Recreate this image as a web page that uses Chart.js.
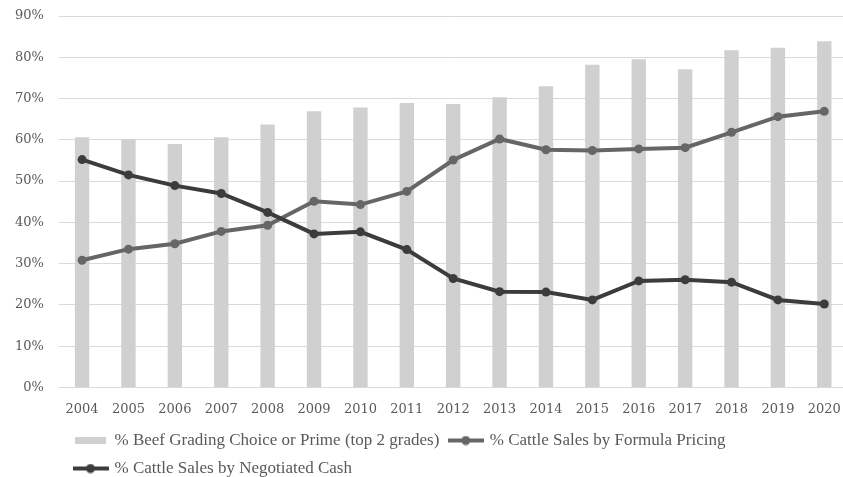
<!DOCTYPE html>
<html lang="en">
<head>
  <meta charset="UTF-8">
  <title>Beef grading and cattle sales by pricing method</title>
  <script src="https://cdn.jsdelivr.net/npm/chart.js@4"></script>
  <style>
    html, body { margin: 0; padding: 0; background: #fff; overflow: hidden; }
    /* plot runs a little past the window on the right, like the source image */
    #wrap { width: 852px; height: 477px; position: relative; }
  </style>
</head>
<body>
  <div id="wrap"><canvas id="chart"></canvas></div>

  <script>
    // data (percent)
    var years = ["2004", "2005", "2006", "2007", "2008", "2009", "2010", "2011", "2012",
                 "2013", "2014", "2015", "2016", "2017", "2018", "2019", "2020"];
    var beefChoicePrime = [60.6, 60.1, 59.0, 60.6, 63.7, 66.9, 67.8, 68.9, 68.7,
                           70.3, 73.0, 78.2, 79.5, 77.1, 81.7, 82.3, 83.9];
    var formulaPricing = [30.8, 33.5, 34.8, 37.8, 39.3, 45.1, 44.3, 47.5, 55.1,
                          60.2, 57.6, 57.4, 57.8, 58.1, 61.8, 65.6, 66.9];
    var negotiatedCash = [55.2, 51.5, 48.9, 47.0, 42.4, 37.2, 37.7, 33.4, 26.4,
                          23.2, 23.1, 21.2, 25.8, 26.1, 25.5, 21.2, 20.2];
    var yTicks = [0, 10, 20, 30, 40, 50, 60, 70, 80, 90];
    var seriesNames = ["% Beef Grading Choice or Prime (top 2 grades)",
                       "% Cattle Sales by Formula Pricing",
                       "% Cattle Sales by Negotiated Cash"];

    var BAR_COLOR = "#d0d0d0";
    var FORMULA_COLOR = "#666666";
    var CASH_COLOR = "#3c3c3c";
    var TEXT_COLOR = "#595959";
    var LEGEND_OFFSET = 53;
    var LEGEND_RAISE = 2;

    /* small pictures used as legend markers */
    function makeBoxMarker(color) {
      var c = document.createElement("canvas");
      c.width = 31;
      c.height = 7;
      var ctx = c.getContext("2d");
      ctx.fillStyle = color;
      ctx.fillRect(0, 0, c.width, c.height);
      return c;
    }

    function makeLineMarker(color) {
      var c = document.createElement("canvas");
      c.width = 36;
      c.height = 10;
      var ctx = c.getContext("2d");
      ctx.strokeStyle = color;
      ctx.lineWidth = 4;
      ctx.beginPath();
      ctx.moveTo(0, 5);
      ctx.lineTo(36, 5);
      ctx.stroke();
      ctx.fillStyle = color;
      ctx.beginPath();
      ctx.arc(18, 5, 4.5, 0, Math.PI * 2);
      ctx.fill();
      return c;
    }

    var legendMarkers = [makeBoxMarker(BAR_COLOR), makeLineMarker(FORMULA_COLOR), makeLineMarker(CASH_COLOR)];

    /* legend sits left-aligned under the plot, not at the canvas edge */
    var legendShift = {
      id: "legendShift",
      afterLayout: function(chart) {
        if (chart.legend) {
          chart.legend.left += LEGEND_OFFSET;
          chart.legend.top -= LEGEND_RAISE;
        }
      }
    };

    var serif = "'DejaVu Serif', serif";

    new Chart(document.getElementById("chart"), {
      type: "bar",
      data: {
        labels: years,
        datasets: [{
          type: "bar",
          label: seriesNames[0],
          data: beefChoicePrime,
          backgroundColor: BAR_COLOR,
          barPercentage: 0.31,
          categoryPercentage: 1.0,
          order: 3
        }, {
          type: "line",
          label: seriesNames[1],
          data: formulaPricing,
          borderColor: FORMULA_COLOR,
          backgroundColor: FORMULA_COLOR,
          borderWidth: 4,
          pointRadius: 4.5,
          pointBorderWidth: 0,
          tension: 0,
          order: 2
        }, {
          type: "line",
          label: seriesNames[2],
          data: negotiatedCash,
          borderColor: CASH_COLOR,
          backgroundColor: CASH_COLOR,
          borderWidth: 4,
          pointRadius: 4.5,
          pointBorderWidth: 0,
          tension: 0,
          order: 1
        }]
      },
      options: {
        responsive: true,
        maintainAspectRatio: false,
        animation: false,
        layout: {
          padding: { left: 11, top: 16, right: 0, bottom: 0 }
        },
        scales: {
          x: {
            grid: { display: false },
            border: { display: false },
            ticks: {
              color: TEXT_COLOR,
              padding: 6,
              maxRotation: 0,
              autoSkip: false,
              font: { family: serif, size: 13 }
            }
          },
          y: {
            min: 0,
            max: 90,
            afterBuildTicks: function(axis) {
              axis.ticks = yTicks.map(function(v) { return { value: v }; });
            },
            // invisible tick marks keep the gap between labels and plot
            grid: { color: "#d9d9d9", lineWidth: 1, drawTicks: true, tickLength: 11, tickColor: "rgba(0,0,0,0)" },
            border: { display: false },
            ticks: {
              color: TEXT_COLOR,
              padding: 4,
              font: { family: serif, size: 13 },
              callback: function(v) { return v + "%"; }
            }
          }
        },
        plugins: {
          tooltip: { enabled: false },
          legend: {
            position: "bottom",
            align: "start",
            maxHeight: 54,
            labels: {
              color: TEXT_COLOR,
              usePointStyle: true,
              pointStyleWidth: 31,
              padding: 11,
              font: { family: "'Liberation Serif', serif", size: 17 },
              sort: function(a, b) { return a.datasetIndex - b.datasetIndex; },
              generateLabels: function(chart) {
                var items = Chart.defaults.plugins.legend.labels.generateLabels(chart);
                items.forEach(function(item) {
                  item.pointStyle = legendMarkers[item.datasetIndex];
                });
                return items;
              }
            }
          }
        }
      },
      plugins: [legendShift]
    });
  </script>
</body>
</html>
